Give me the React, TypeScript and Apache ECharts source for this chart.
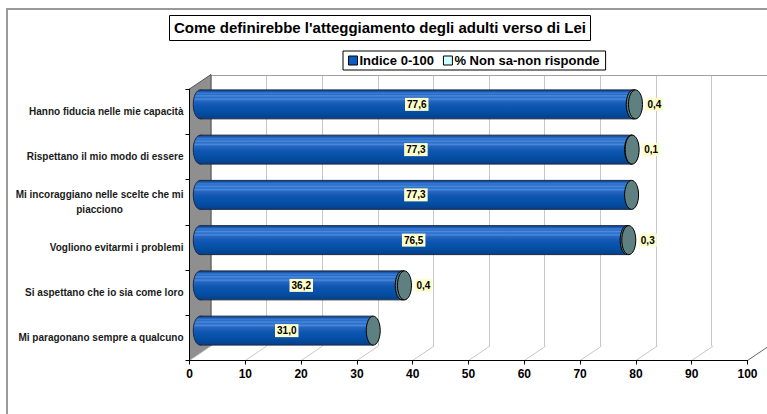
import React, { useEffect, useRef } from 'react';
import * as echarts from 'echarts';

const titleText = "Come definirebbe l'atteggiamento degli adulti verso di Lei";
const seriesNames = ['Indice 0-100', '% Non sa-non risponde'];
const categories = [
  'Hanno fiducia nelle mie capacità',
  'Rispettano il mio modo di essere',
  'Mi incoraggiano nelle scelte che mi\npiacciono',
  'Vogliono evitarmi i problemi',
  'Si aspettano che io sia come loro',
  'Mi paragonano sempre a qualcuno',
];
const indice = [77.6, 77.3, 77.3, 76.5, 36.2, 31.0];
const nonSa = [0.4, 0.1, 0, 0.3, 0.4, 0];
const xTicks = [0, 10, 20, 30, 40, 50, 60, 70, 80, 90, 100];

const DX = 21.5;
const DY = 14.5;
const FONT = "'Liberation Sans', Arial, sans-serif";
const OUT = '#1d2840';
const CAP = '#5f8080';

const fmt = (v: number) => v.toFixed(1).replace('.', ',');

const barGrad = {
  type: 'linear', x: 0, y: 0, x2: 0, y2: 1,
  colorStops: [
    { offset: 0, color: '#0b3d85' },
    { offset: 0.06, color: '#1a5cb5' },
    { offset: 0.12, color: '#3a7ed4' },
    { offset: 0.16, color: '#2a6ac4' },
    { offset: 0.2, color: '#4a8ce0' },
    { offset: 0.26, color: '#2c6dc6' },
    { offset: 0.32, color: '#4789dc' },
    { offset: 0.38, color: '#2566c0' },
    { offset: 0.45, color: '#1d5fba' },
    { offset: 0.55, color: '#0f56b0' },
    { offset: 0.7, color: '#0652aa' },
    { offset: 0.85, color: '#054a9c' },
    { offset: 1, color: '#043f88' },
  ],
};

const labelStyle = (text: string, align: string) => ({
  text,
  font: `bold 10px ${FONT}`,
  fill: '#000',
  align,
  verticalAlign: 'middle',
  backgroundColor: '#FFFFCC',
  padding: [2, 2, 1, 2],
});

const renderFrame = (params: any, api: any) => {
  const cs = params.coordSys;
  const v = api.value(0);
  const px = api.coord([v, 0])[0];
  const top = cs.y;
  const bottom = cs.y + cs.height;
  const children: any[] = [];
  if (params.dataIndex === 0) {
    children.push({
      type: 'polygon',
      shape: { points: [[cs.x, top], [cs.x + DX, top - DY], [cs.x + DX, bottom - DY], [cs.x, bottom]] },
      style: { fill: '#8f8f8f', stroke: '#555', lineWidth: 1 },
    });
    children.push({
      type: 'polygon',
      shape: { points: [[cs.x, bottom], [cs.x + cs.width, bottom], [cs.x + cs.width + DX, bottom - DY], [cs.x + DX, bottom - DY]] },
      style: { fill: '#fff' },
    });
  }
  children.push({
    type: 'line',
    shape: { x1: px, y1: bottom, x2: px + DX, y2: bottom - DY },
    style: { stroke: v === 100 ? '#666' : '#c8c8c8', lineWidth: 1 },
  });
  return { type: 'group', children };
};

const renderMain = (params: any, api: any) => {
  const cs = params.coordSys;
  const v = api.value(0);
  const c = api.value(1);
  const band = cs.height / categories.length;
  const ry = band * 0.32;
  const rx = 7;
  const p0 = api.coord([0, c]);
  const p1 = api.coord([v, c]);
  const x0 = p0[0] + DX / 2;
  const x1 = p1[0] + DX / 2;
  const cy = p0[1] - DY / 2;
  return {
    type: 'group',
    children: [
      { type: 'ellipse', shape: { cx: x0, cy, rx, ry }, style: { fill: barGrad, stroke: OUT, lineWidth: 1 } },
      { type: 'rect', shape: { x: x0, y: cy - ry, width: x1 - x0, height: 2 * ry }, style: { fill: barGrad } },
      { type: 'line', shape: { x1: x0, y1: cy - ry, x2: x1, y2: cy - ry }, style: { stroke: OUT, lineWidth: 1 } },
      { type: 'line', shape: { x1: x0, y1: cy + ry, x2: x1, y2: cy + ry }, style: { stroke: OUT, lineWidth: 1 } },
      { type: 'ellipse', shape: { cx: x1, cy, rx, ry }, style: { fill: CAP, stroke: '#000', lineWidth: 1 } },
      { type: 'text', x: (x0 + x1) / 2, y: cy, style: labelStyle(fmt(v), 'center') },
    ],
  };
};

const renderExtra = (params: any, api: any) => {
  const cs = params.coordSys;
  const s = api.value(0);
  const len = api.value(1);
  const c = api.value(2);
  if (!len) return null;
  const band = cs.height / categories.length;
  const ry = band * 0.32;
  const rx = 7;
  const pa = api.coord([s, c]);
  const pb = api.coord([s + len, c]);
  const xa = pa[0] + DX / 2;
  const xb = pb[0] + DX / 2;
  const cy = pa[1] - DY / 2;
  return {
    type: 'group',
    children: [
      { type: 'rect', shape: { x: xa, y: cy - ry, width: xb - xa, height: 2 * ry }, style: { fill: CAP } },
      { type: 'line', shape: { x1: xa, y1: cy - ry, x2: xb, y2: cy - ry }, style: { stroke: '#000', lineWidth: 1 } },
      { type: 'line', shape: { x1: xa, y1: cy + ry, x2: xb, y2: cy + ry }, style: { stroke: '#000', lineWidth: 1 } },
      { type: 'ellipse', shape: { cx: xb, cy, rx, ry }, style: { fill: CAP, stroke: '#000', lineWidth: 1 } },
      { type: 'text', x: xb + rx + 3, y: cy, style: labelStyle(fmt(len), 'left') },
    ],
  };
};

export default function App() {
  const ref = useRef<HTMLDivElement>(null);
  useEffect(() => {
    if (!ref.current) return;
    const chart = echarts.init(ref.current, undefined, { renderer: 'svg' });
    const catLabelFormatter = (val: string) =>
      val.includes('\n') ? val.split('\n').map((s) => `{c|${s}}`).join('\n') : val;
    const option: any = {
      animation: false,
      backgroundColor: '#fff',
      title: {
        text: titleText,
        left: 169,
        top: 15,
        padding: [5, 5, 6, 5],
        borderColor: '#000',
        borderWidth: 1,
        textStyle: { fontFamily: FONT, fontSize: 15, fontWeight: 'bold', color: '#000' },
      },
      legend: {
        data: [
          { name: seriesNames[0], icon: 'rect' },
          { name: seriesNames[1], icon: 'rect' },
        ],
        left: 343,
        top: 51,
        padding: [3, 6, 3, 5],
        borderColor: '#000',
        borderWidth: 1,
        itemWidth: 9,
        itemHeight: 9,
        itemGap: 9,
        itemStyle: { borderColor: '#000', borderWidth: 1 },
        textStyle: { fontFamily: FONT, fontSize: 13, fontWeight: 'bold', color: '#000', padding: [0, 0, 0, -3] },
      },
      graphic: [
        {
          type: 'rect',
          silent: true,
          z: -10,
          shape: { x: 7, y: 9, width: 800, height: 450 },
          style: { fill: 'none', stroke: '#999', lineWidth: 2 },
        },
      ],
      grid: [
        { left: 189.5, top: 89, width: 558, height: 271.5, containLabel: false },
        { left: 211, top: 75, width: 558, height: 271, containLabel: false },
      ],
      xAxis: [
        {
          gridIndex: 0,
          type: 'value',
          min: 0,
          max: 100,
          interval: 10,
          z: 5,
          axisLine: { show: true, lineStyle: { color: '#000', width: 1 } },
          axisTick: { show: true, length: 4, lineStyle: { color: '#000' } },
          axisLabel: { margin: 7, fontFamily: FONT, fontSize: 12, fontWeight: 'bold', color: '#000' },
          splitLine: { show: false },
        },
        {
          gridIndex: 1,
          type: 'value',
          min: 0,
          max: 100,
          interval: 10,
          position: 'bottom',
          axisLine: { show: true, lineStyle: { color: '#a0a0a0', width: 1 } },
          axisTick: { show: false },
          axisLabel: { show: false },
          splitLine: { show: true, lineStyle: { color: '#c8c8c8', width: 1 } },
        },
        {
          gridIndex: 1,
          type: 'value',
          min: 0,
          max: 100,
          interval: 10,
          position: 'top',
          axisLine: { show: true, lineStyle: { color: '#a0a0a0', width: 1 } },
          axisTick: { show: false },
          axisLabel: { show: false },
          splitLine: { show: false },
        },
      ],
      yAxis: [
        {
          gridIndex: 0,
          type: 'category',
          data: categories,
          inverse: true,
          z: 5,
          axisLine: { show: true, lineStyle: { color: '#000', width: 1 } },
          axisTick: { show: true, length: 4, lineStyle: { color: '#000' } },
          axisLabel: {
            margin: 6,
            fontFamily: FONT,
            fontSize: 10,
            fontWeight: 'bold',
            color: '#1a1a1a',
            lineHeight: 15,
            formatter: catLabelFormatter,
            rich: {
              c: { align: 'center', fontFamily: FONT, fontSize: 10, fontWeight: 'bold', color: '#1a1a1a', lineHeight: 15 },
            },
          },
          splitLine: { show: false },
        },
        {
          gridIndex: 1,
          type: 'category',
          data: categories,
          inverse: true,
          show: false,
        },
      ],
      series: [
        {
          type: 'custom',
          name: 'frame',
          xAxisIndex: 0,
          yAxisIndex: 0,
          z: 1,
          silent: true,
          renderItem: renderFrame,
          encode: { x: 0, y: 1 },
          data: xTicks.map((v) => [v, 0]),
        },
        {
          type: 'custom',
          name: seriesNames[0],
          xAxisIndex: 0,
          yAxisIndex: 0,
          z: 3,
          itemStyle: { color: '#0a5cc4' },
          renderItem: renderMain,
          encode: { x: 0, y: 1 },
          data: indice.map((v, i) => [v, i]),
        },
        {
          type: 'custom',
          name: seriesNames[1],
          xAxisIndex: 0,
          yAxisIndex: 0,
          z: 4,
          itemStyle: { color: '#ccffff' },
          renderItem: renderExtra,
          encode: { x: 0, y: 2 },
          data: nonSa.map((v, i) => [indice[i], v, i]),
        },
      ],
    };
    chart.setOption(option);
    return () => chart.dispose();
  }, []);
  return (
    <div
      ref={ref}
      style={{ position: 'absolute', left: 0, top: 0, width: 767, height: 414, background: '#fff' }}
    />
  );
}
